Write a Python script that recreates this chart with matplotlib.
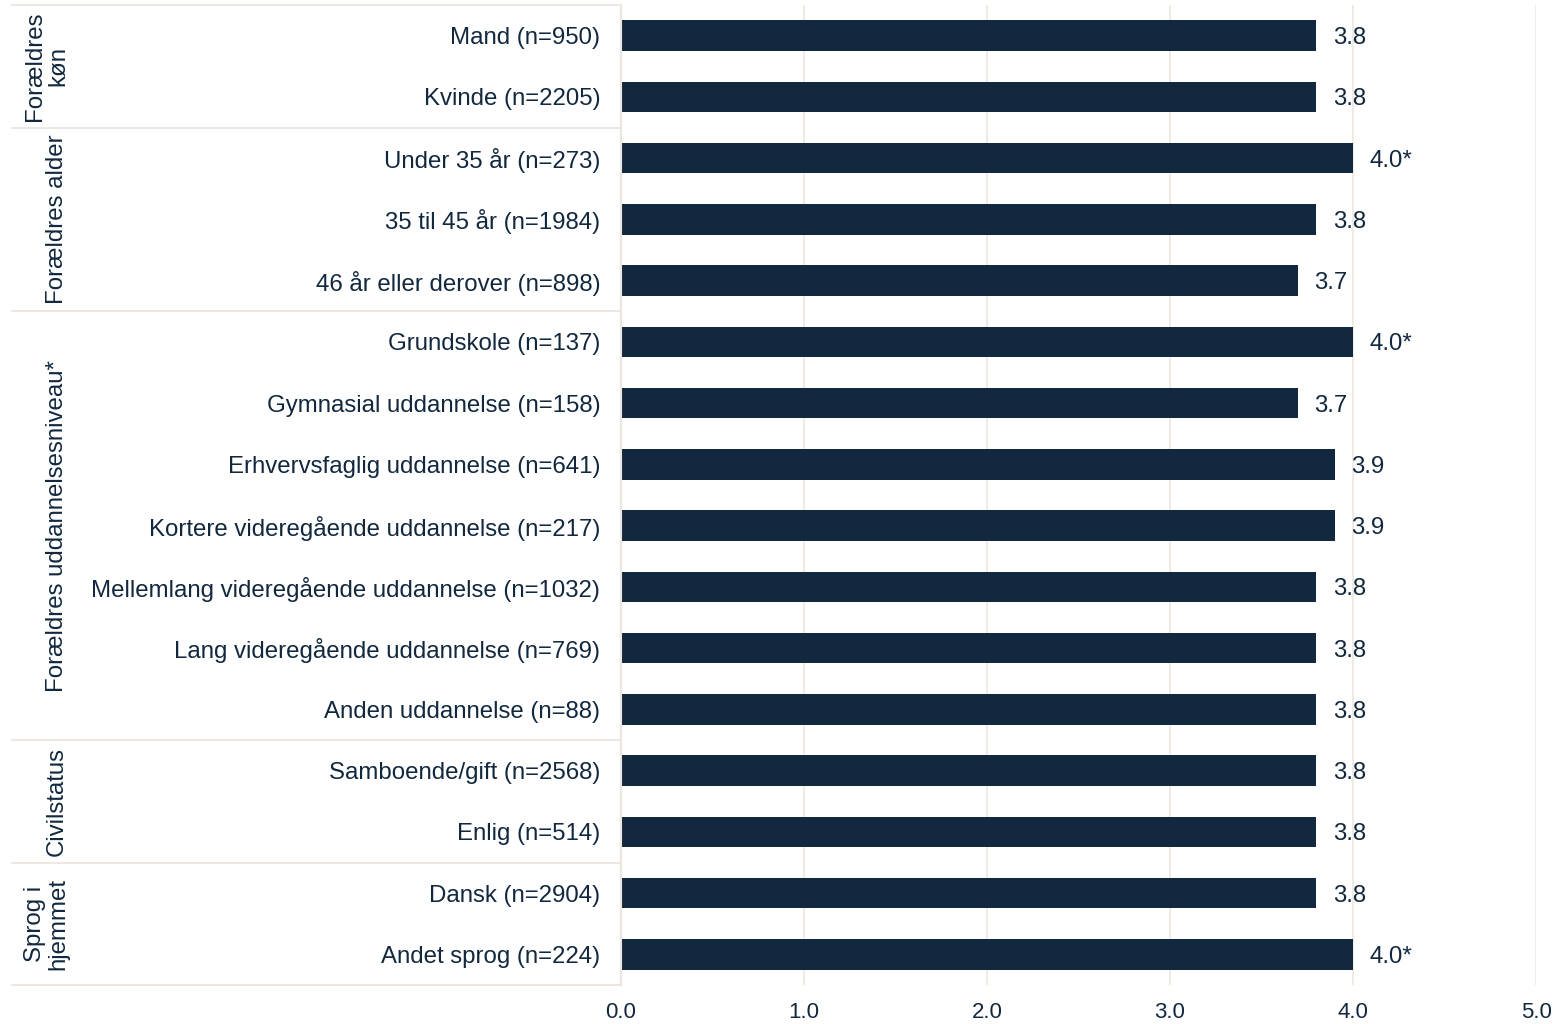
import matplotlib
matplotlib.use("Agg")
import matplotlib.pyplot as plt

plt.rcParams['font.family'] = ['Liberation Sans', 'DejaVu Sans']

# data
labels = ["Mand (n=950)", "Kvinde (n=2205)",
          "Under 35 år (n=273)", "35 til 45 år (n=1984)", "46 år eller derover (n=898)",
          "Grundskole (n=137)", "Gymnasial uddannelse (n=158)",
          "Erhvervsfaglig uddannelse (n=641)", "Kortere videregående uddannelse (n=217)",
          "Mellemlang videregående uddannelse (n=1032)", "Lang videregående uddannelse (n=769)",
          "Anden uddannelse (n=88)",
          "Samboende/gift (n=2568)", "Enlig (n=514)",
          "Dansk (n=2904)", "Andet sprog (n=224)"]
values = [3.8, 3.8, 4.0, 3.8, 3.7, 4.0, 3.7, 3.9, 3.9, 3.8, 3.8, 3.8, 3.8, 3.8, 3.8, 4.0]
value_labels = ["3.8", "3.8", "4.0*", "3.8", "3.7", "4.0*", "3.7", "3.9", "3.9",
                "3.8", "3.8", "3.8", "3.8", "3.8", "3.8", "4.0*"]
groups = ["Forældres\nkøn", "Forældres alder", "Forældres uddannelsesniveau*",
          "Civilstatus", "Sprog i\nhjemmet"]
group_sizes = [2, 3, 7, 2, 2]
xticks = [0, 1, 2, 3, 4, 5]

navy = "#12283e"
grid_c = "#ece6de"
fs = 17.3

W, H = 1558, 1024
fig = plt.figure(figsize=(W / 100, H / 100), dpi=100)
ax = fig.add_axes([621 / W, 1 - 985 / H, (1536 - 621) / W, (985 - 5) / H])

y = list(range(len(labels)))
ax.barh(y, values, height=0.5, color=navy)
for yi, v, t in zip(y, values, value_labels):
    ax.text(v + 0.09, yi, t, va='center_baseline', ha='left', fontsize=fs, color=navy)

ax.set_ylim(len(labels) - 0.5, -0.5)
ax.set_xlim(0, 5)
ax.set_xticks(xticks)
ax.set_xticklabels([f"{t:.1f}" for t in xticks], fontsize=16, color=navy)
ax.set_yticks(y)
ax.set_yticklabels(labels, fontsize=fs, color=navy)
ax.tick_params(axis='both', length=0)
ax.tick_params(axis='y', pad=15)
ax.tick_params(axis='x', pad=12)
ax.grid(axis='x', color=grid_c, linewidth=1.2)
ax.set_axisbelow(True)
for s in ['top', 'right', 'bottom']:
    ax.spines[s].set_visible(False)
ax.spines['left'].set_color(grid_c)
ax.spines['left'].set_linewidth(1.5)

# group separators and rotated group names
trans = ax.get_yaxis_transform()
x_left = (12 - 621) / (1536 - 621)
xc = (63 - 621) / (1536 - 621)
start = -0.5
ax.plot([x_left, 0], [start, start], transform=trans, color=grid_c, lw=1.3, clip_on=False)
for g, n in zip(groups, group_sizes):
    end = start + n
    ax.plot([x_left, 0], [end, end], transform=trans, color=grid_c, lw=1.3, clip_on=False)
    ax.text(xc, (start + end) / 2, g, transform=trans, rotation=90, rotation_mode='anchor',
            ha='center', va='baseline', fontsize=fs, color=navy, linespacing=1.1,
            multialignment='center')
    start = end

fig.savefig("out.png", dpi=100)
